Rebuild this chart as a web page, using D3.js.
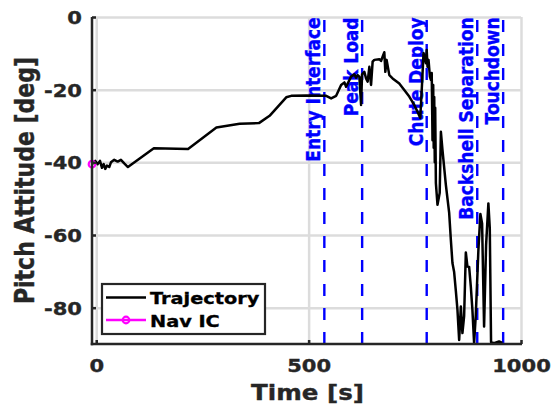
<!DOCTYPE html>
<html>
<head>
<meta charset="utf-8">
<script src="https://cdn.jsdelivr.net/npm/d3@7"></script>
<style>
  html, body { margin: 0; padding: 0; background: #fff; }
  svg { display: block; font-family: "DejaVu Sans", sans-serif; font-weight: bold; }
</style>
</head>
<body>
<svg id="chart" width="555" height="410"></svg>
<script>
// Pitch attitude history over the descent
const timeS = [
  -10, -2.3, 3.4, 8.8, 13.5, 17.5, 21.2, 25.2, 30.6, 34.6, 42.4, 50.4, 58.1, 65.9, 74.6,
  135.6, 216.2, 282.9, 337.6, 383.0, 408.1, 447.3, 459.1, 494.3, 541.3, 553.0, 564.8,
  576.5, 584.3, 588.2, 592.0, 600.0, 607.7, 611.7, 615.5, 619.5, 623.5, 625.8, 631.2,
  635.2, 639.0, 643.0, 647.0, 650.7, 654.7, 666.5, 670.5, 674.2, 678.2, 680.6, 683.6,
  690.0, 697.7, 713.4, 725.2, 736.9, 748.7, 756.4, 762.8, 767.5, 770.5, 776.2, 778.0,
  779.9, 782.3, 785.5, 787.9, 789.8, 791.7, 793.3, 794.5, 795.7, 797.0, 798.0, 799.6,
  803.4, 808.6, 811.4, 815.1, 823.1, 830.9, 834.9, 838.6, 842.6, 846.6, 850.4, 854.4,
  858.4, 862.1, 866.1, 870.1, 873.9, 877.9, 881.9, 885.6, 889.6, 893.6, 899.7, 904.4,
  908.4, 913.1, 917.8, 923.2, 926.5, 929.5, 936.6, 948.3, 956.1
];
const pitchDeg = [
  -40.5, -39.6, -40.5, -39.6, -41.5, -40.5, -41.8, -40.9, -41.3, -40.0, -39.3, -39.8, -39.3, -40.3, -41.3,
  -36.1, -36.3, -30.4, -29.4, -29.2, -27.2, -22.1, -21.7, -21.6, -21.7, -22.4, -21.7,
  -18.7, -18.0, -19.2, -18.3, -16.4, -15.8, -16.7, -16.0, -16.4, -24.2, -15.8, -15.1,
  -16.9, -17.8, -13.7, -18.7, -12.3, -11.8, -11.6, -12.1, -10.9, -9.7, -15.1, -11.8,
  -16.0, -16.9, -18.3, -20.1, -21.9, -24.2, -26.1, -27.8, -17.3, -9.9, -12.7, -9.1,
  -13.7, -11.8, -16.4, -17.3, -15.4, -33.9, -18.7, -36.0, -22.0, -40.0, -25.0, -45.7,
  -51.7, -48.4, -31.6, -36.6, -46.2, -53.9, -61.4, -67.7, -70.2, -75.4, -80.6, -88.9,
  -79.7, -87.0, -82.3, -64.8, -68.7, -68.8, -74.3, -80.6, -89.8, -82.0, -64.1, -54.2,
  -56.8, -85.2, -62.8, -51.3, -58.1, -89.5, -89.8, -89.3, -89.7
];

// Navigation initial condition
const navICTime = [-10];
const navICPitch = [-40.5];

// Mission events
const eventNames = ["Entry Interface", "Peak Load", "Chute Deploy", "Backshell Separation", "Touchdown"];
const eventTimes = [537, 626, 778, 897, 958];

// Axis ticks
const xTicks = [0, 500, 1000];
const xTickLabels = ["0", "500", "1000"];
const yTicks = [0, -20, -40, -60, -80];
const yTickLabels = ["0", "-20", "-40", "-60", "-80"];

(function draw() {
  const svg = d3.select("#chart");
  const pL = 92, pR = 521, pT = 17, pB = 344;
  const SX = 1.17; // horizontal glyph widening used for all text

  const x = d3.scaleLinear().domain([-10, 1000]).range([pL, pR]);
  const y = d3.scaleLinear().domain([-90, 0]).range([pB, pT]);

  const axisColor = "#262626";
  const gridColor = "#dcdcdc";

  // slightly heavier glyphs
  const heavy = (sel, color) => sel.attr("stroke", color).attr("stroke-width", 0.35).attr("paint-order", "stroke");

  // Grid
  svg.append("g")
    .attr("transform", `translate(0,${pB})`)
    .call(d3.axisBottom(x).tickValues(xTicks).tickSize(-(pB - pT)).tickFormat(""))
    .call(g => g.select(".domain").remove())
    .call(g => g.selectAll("line").attr("stroke", gridColor).attr("stroke-width", 2.5));
  svg.append("g")
    .attr("transform", `translate(${pL},0)`)
    .call(d3.axisLeft(y).tickValues(yTicks).tickSize(-(pR - pL)).tickFormat(""))
    .call(g => g.select(".domain").remove())
    .call(g => g.selectAll("line").attr("stroke", gridColor).attr("stroke-width", 2.5));

  // Event markers
  const ev = svg.append("g");
  eventTimes.forEach((t, i) => {
    ev.append("line")
      .attr("x1", x(t)).attr("x2", x(t))
      .attr("y1", y(-90)).attr("y2", y(0))
      .attr("stroke", "#0000ff").attr("stroke-width", 2.4)
      .attr("stroke-dasharray", "12,12");
    ev.append("text")
      .attr("transform", `translate(${x(t) - 4},${pT + 0.5}) scale(${SX},1) rotate(-90)`)
      .attr("text-anchor", "end")
      .attr("font-size", 17)
      .attr("fill", "#0000ff")
      .call(heavy, "#0000ff")
      .text(eventNames[i]);
  });

  // Trajectory
  const clip = svg.append("clipPath").attr("id", "plotclip");
  clip.append("rect").attr("x", pL).attr("y", pT - 2).attr("width", pR - pL).attr("height", pB - pT + 2);
  const pts = timeS.map((t, i) => [t, pitchDeg[i]]);
  svg.append("path")
    .datum(pts)
    .attr("clip-path", "url(#plotclip)")
    .attr("fill", "none")
    .attr("stroke", "#000")
    .attr("stroke-width", 2.5)
    .attr("stroke-linejoin", "round")
    .attr("d", d3.line().x(d => x(d[0])).y(d => y(d[1])));

  // Nav IC marker
  svg.selectAll("circle.navic")
    .data(navICTime.map((t, i) => [t, navICPitch[i]]))
    .join("circle")
    .attr("class", "navic")
    .attr("cx", d => x(d[0])).attr("cy", d => y(d[1]))
    .attr("r", 3.3)
    .attr("fill", "none").attr("stroke", "#ff00ff").attr("stroke-width", 2.2);

  // Axes
  const xAxis = svg.append("g")
    .attr("transform", `translate(0,${pB})`)
    .call(d3.axisBottom(x).tickValues(xTicks).tickSize(-4).tickSizeOuter(0)
      .tickFormat((d, i) => xTickLabels[i]));
  xAxis.select(".domain").attr("stroke", axisColor).attr("stroke-width", 2.5)
    .attr("d", `M${pL - 1.25},0H${pR + 1}`);
  xAxis.selectAll(".tick line").attr("stroke", axisColor).attr("stroke-width", 2.5);
  xAxis.selectAll(".tick text")
    .attr("fill", axisColor).attr("font-size", 18).attr("font-family", "DejaVu Sans").attr("font-weight", "bold")
    .attr("dy", null).attr("y", 28)
    .attr("transform", `scale(${SX},1)`)
    .call(heavy, axisColor);

  const yAxis = svg.append("g")
    .attr("transform", `translate(${pL},0)`)
    .call(d3.axisLeft(y).tickValues(yTicks).tickSize(-4).tickSizeOuter(0)
      .tickFormat((d, i) => yTickLabels[i]));
  yAxis.select(".domain").attr("stroke", axisColor).attr("stroke-width", 2.5)
    .attr("d", `M0,${pT}V${pB + 1.25}`);
  yAxis.selectAll(".tick line").attr("stroke", axisColor).attr("stroke-width", 2.5);
  yAxis.selectAll(".tick text")
    .attr("fill", axisColor).attr("font-size", 18).attr("font-family", "DejaVu Sans").attr("font-weight", "bold")
    .attr("x", -10 / SX).attr("dy", "0.36em")
    .attr("transform", `scale(${SX},1)`)
    .call(heavy, axisColor);

  // Axis titles
  svg.append("text")
    .attr("transform", `translate(${(pL + pR) / 2 + 1},400) scale(${SX},1)`)
    .attr("text-anchor", "middle").attr("font-size", 21).attr("fill", axisColor)
    .call(heavy, axisColor)
    .text("Time [s]");
  svg.append("text")
    .attr("transform", `translate(34,${(pT + pB) / 2}) scale(${SX},1) rotate(-90)`)
    .attr("text-anchor", "middle").attr("font-size", 22).attr("fill", axisColor)
    .call(heavy, axisColor)
    .text("Pitch Attitude [deg]");

  // Legend
  const lg = svg.append("g");
  lg.append("rect").attr("x", 102).attr("y", 284).attr("width", 163).attr("height", 50)
    .attr("fill", "#fff").attr("stroke", axisColor).attr("stroke-width", 2.2);
  lg.append("line").attr("x1", 106).attr("x2", 146).attr("y1", 297.5).attr("y2", 297.5)
    .attr("stroke", "#000").attr("stroke-width", 2.5);
  lg.append("line").attr("x1", 106).attr("x2", 146).attr("y1", 320).attr("y2", 320)
    .attr("stroke", "#ff00ff").attr("stroke-width", 2.5);
  lg.append("circle").attr("cx", 126).attr("cy", 320).attr("r", 3.3)
    .attr("fill", "none").attr("stroke", "#ff00ff").attr("stroke-width", 2.2);
  lg.append("text").attr("transform", `translate(150,303.5) scale(${SX},1)`)
    .attr("font-size", 16.5).attr("fill", "#000").call(heavy, "#000").text("Trajectory");
  lg.append("text").attr("transform", `translate(150,326.5) scale(${SX},1)`)
    .attr("font-size", 16.5).attr("fill", "#000").call(heavy, "#000").text("Nav IC");
})();
</script>
</body>
</html>
